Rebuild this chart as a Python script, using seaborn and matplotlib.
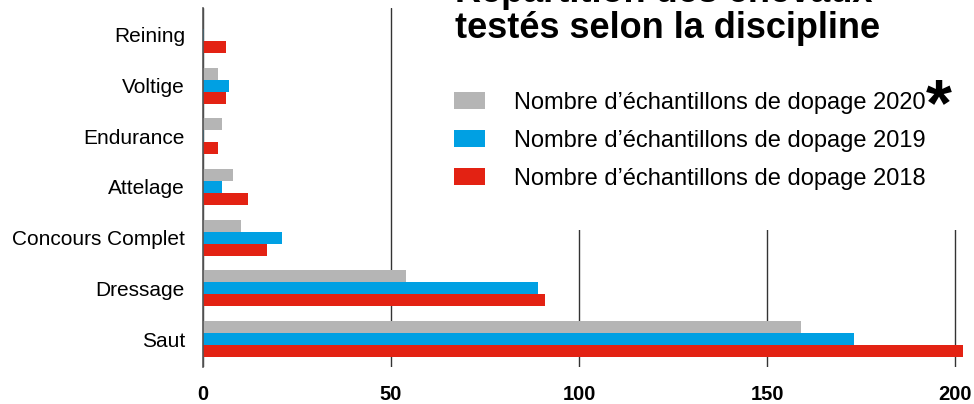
import matplotlib
matplotlib.use('Agg')
import matplotlib.pyplot as plt
from matplotlib.patches import Rectangle
import seaborn as sns
import pandas as pd

disciplines = ['Reining', 'Voltige', 'Endurance', 'Attelage', 'Concours Complet', 'Dressage', 'Saut']
series = ['Nombre d\u2019échantillons de dopage 2020',
          'Nombre d\u2019échantillons de dopage 2019',
          'Nombre d\u2019échantillons de dopage 2018']
val_2020 = [0, 4, 5, 8, 10, 54, 159]
val_2019 = [0.3, 7, 0.3, 5, 21, 89, 173]
val_2018 = [6, 6, 4, 12, 17, 91, 202]
couleurs = ['#b5b5b5', '#00a0e3', '#e32213']
xticks = [0, 50, 100, 150, 200]

rows = []
for s, vals in zip(series, [val_2020, val_2019, val_2018]):
    for d, v in zip(disciplines, vals):
        rows.append({'discipline': d, 'valeur': v, 'serie': s})
df = pd.DataFrame(rows)

sns.set_style('white')
plt.rcParams['font.family'] = ['Liberation Sans', 'DejaVu Sans']
plt.rcParams['text.color'] = 'black'
plt.rcParams['xtick.color'] = 'black'
plt.rcParams['ytick.color'] = 'black'

fig = plt.figure(figsize=(9.74, 4.04), dpi=100)
ax = fig.add_axes([203 / 974, 37 / 404, 1 - 203 / 974, (367 - 8) / 404])

sns.barplot(data=df, y='discipline', x='valeur', hue='serie', order=disciplines,
            hue_order=series, palette=couleurs, orient='h', width=0.71,
            saturation=1, linewidth=0, ax=ax, zorder=2)

ax.set_xlim(0, 205)
ax.set_ylim(6.55, -0.53)
ax.set_xticks(xticks)
ax.set_xticklabels([str(t) for t in xticks], fontweight='bold', fontsize=14.5)
ax.tick_params(axis='x', length=0, pad=13)
ax.tick_params(axis='y', length=0, pad=13, labelsize=15)
ax.set_xlabel('')
ax.set_ylabel('')

ax.xaxis.grid(True, color='#333333', linewidth=1)
ax.set_axisbelow(True)
for sp in ['top', 'right', 'bottom']:
    ax.spines[sp].set_visible(False)
ax.spines['left'].set_color('#555555')
ax.spines['left'].set_linewidth(1.2)

# white block behind title and legend
ax.add_patch(Rectangle((420 / 974, 1 - 230 / 404), 1, 1, transform=fig.transFigure,
                       facecolor='white', edgecolor='none', zorder=1))

handles, labels = ax.get_legend_handles_labels()
ax.legend(handles, labels, loc='upper left', bbox_to_anchor=(454 / 974, 1 - 92 / 404),
          bbox_transform=fig.transFigure, frameon=False, fontsize=17,
          handlelength=1.3, handleheight=0.72, handletextpad=1.25, labelspacing=0.68,
          borderpad=0, borderaxespad=0)

fig.text(455 / 974, 1 - 46 / 404, 'Répartition des chevaux\ntestés selon la discipline',
         fontsize=26, fontweight='bold', ha='left', va='bottom', linespacing=1.05)
fig.text(926 / 974, 1 - 77 / 404, '*', fontsize=48, fontweight='bold', ha='left', va='top')

fig.savefig('out.png', dpi=100)
